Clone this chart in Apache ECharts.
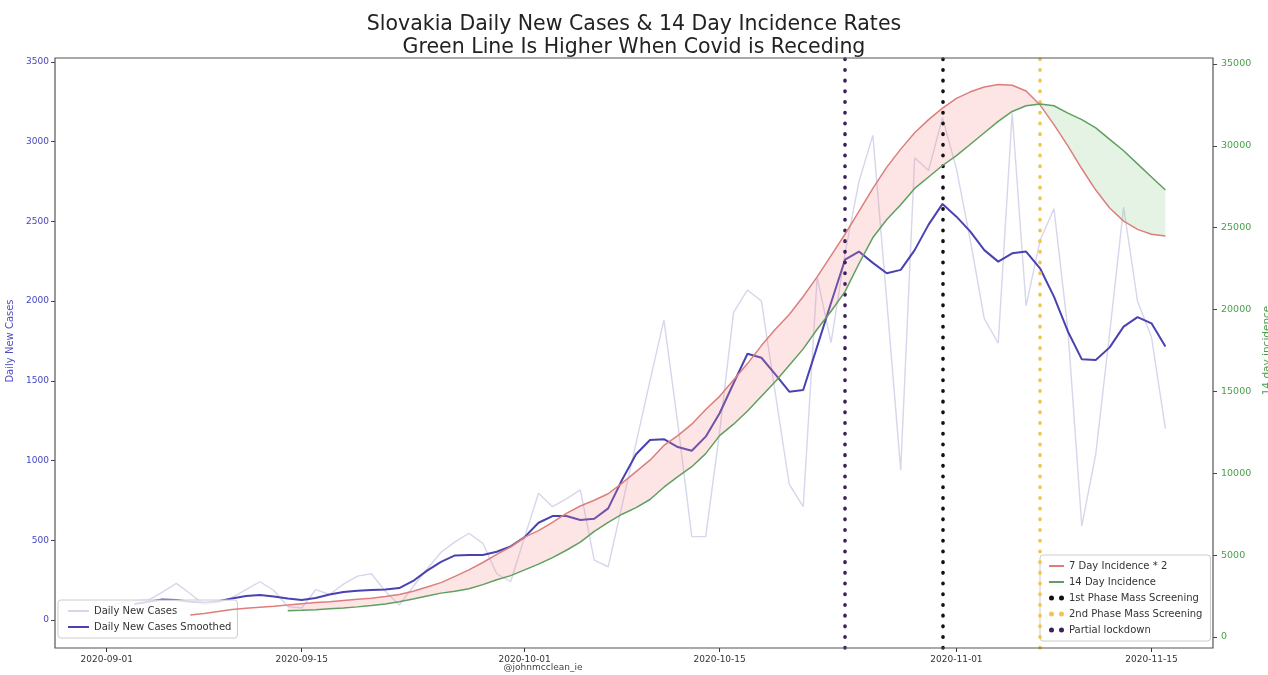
<!DOCTYPE html>
<html><head><meta charset="utf-8">
<script src="https://cdn.jsdelivr.net/npm/echarts@6/dist/echarts.min.js"></script>
<style>html,body{margin:0;padding:0;background:#fff}#c{width:1268px;height:675px}</style>
</head><body><div id="c"></div>
<script>
// ---------- DATA ----------
const dates = [
 '2020-09-01','2020-09-02','2020-09-03','2020-09-04','2020-09-05','2020-09-06','2020-09-07','2020-09-08','2020-09-09','2020-09-10',
 '2020-09-11','2020-09-12','2020-09-13','2020-09-14','2020-09-15','2020-09-16','2020-09-17','2020-09-18','2020-09-19','2020-09-20',
 '2020-09-21','2020-09-22','2020-09-23','2020-09-24','2020-09-25','2020-09-26','2020-09-27','2020-09-28','2020-09-29','2020-09-30',
 '2020-10-01','2020-10-02','2020-10-03','2020-10-04','2020-10-05','2020-10-06','2020-10-07','2020-10-08','2020-10-09','2020-10-10',
 '2020-10-11','2020-10-12','2020-10-13','2020-10-14','2020-10-15','2020-10-16','2020-10-17','2020-10-18','2020-10-19','2020-10-20',
 '2020-10-21','2020-10-22','2020-10-23','2020-10-24','2020-10-25','2020-10-26','2020-10-27','2020-10-28','2020-10-29','2020-10-30',
 '2020-10-31','2020-11-01','2020-11-02','2020-11-03','2020-11-04','2020-11-05','2020-11-06','2020-11-07','2020-11-08','2020-11-09',
 '2020-11-10','2020-11-11','2020-11-12','2020-11-13','2020-11-14','2020-11-15','2020-11-16'
];
const dailyCases = [
 60,110,120,125,175,230,165,95,110,140,
 190,240,185,85,75,190,160,225,275,290,
 180,94,210,320,425,490,544,481,290,240,
 520,795,711,760,816,376,334,720,1110,1500,
 1882,1230,523,523,1180,1930,2070,2000,1420,850,
 711,2150,1740,2300,2750,3040,2000,940,2900,2820,
 3150,2830,2380,1890,1736,3180,1970,2380,2580,1820,
 590,1040,1800,2590,2000,1775,1200
];
const dailySmoothed = [
 null,null,100,115,128,125,115,109,118,135,
 150,157,148,135,125,138,160,176,184,188,
 191,200,245,310,365,405,408,408,428,462,
 520,610,652,652,627,635,700,880,1040,1129,
 1134,1085,1062,1150,1297,1485,1670,1645,1540,1432,
 1443,1715,1990,2260,2311,2240,2175,2196,2320,2480,
 2610,2530,2436,2320,2248,2300,2311,2206,2028,1810,
 1635,1631,1710,1840,1900,1861,1715
];
const incidence7x2 = [
 null,null,null,null,null,null,1340,1440,1560,1680,
 1760,1820,1880,1950,2030,2100,2160,2230,2300,2360,
 2470,2600,2800,3050,3320,3700,4100,4550,5050,5500,
 6100,6500,7000,7550,8000,8350,8750,9400,10100,10800,
 11700,12300,13000,13900,14700,15700,16700,17800,18800,19700,
 20800,22000,23300,24600,26000,27400,28700,29800,30800,31600,
 32300,32900,33300,33600,33750,33700,33350,32500,31300,30000,
 28600,27300,26200,25400,24900,24600,24500
];
const incidence14 = [
 null,null,null,null,null,null,null,null,null,null,
 null,null,null,1600,1630,1670,1720,1770,1840,1920,
 2020,2150,2320,2500,2680,2800,2950,3200,3500,3750,
 4100,4450,4850,5300,5800,6450,7000,7500,7900,8400,
 9150,9800,10400,11200,12300,13000,13800,14700,15600,16600,
 17600,18800,19900,21100,22800,24400,25500,26400,27400,28100,
 28800,29400,30100,30800,31500,32100,32450,32550,32450,32000,
 31600,31100,30400,29700,28900,28100,27300
];
const events = [
 {name:'1st Phase Mass Screening', date:'2020-10-31', color:'#111111'},
 {name:'2nd Phase Mass Screening', date:'2020-11-07', color:'#f0c550'},
 {name:'Partial lockdown', date:'2020-10-24', color:'#3d1f5c'}
];
const titleLines = ['Slovakia Daily New Cases & 14 Day Incidence Rates','Green Line Is Higher When Covid is Receding'];

// ---------- derived band arrays for fill between red & green ----------
const bandBase = incidence7x2.map((r,i)=>(r==null||incidence14[i]==null)?null:Math.min(r,incidence14[i]));
const bandPink = incidence7x2.map((r,i)=>(r==null||incidence14[i]==null)?null:Math.max(r-incidence14[i],0));
const bandGreen = incidence7x2.map((r,i)=>(r==null||incidence14[i]==null)?null:Math.max(incidence14[i]-r,0));

const FONT = 'DejaVu Sans';
const DL = 106.7, DR = 102.6;
const tickFn = (idx, val) => /-(01|15)$/.test(val);
const plain = v => String(v);
const DOTS = 'path://M0,2.5A2.5,2.5,0,1,1,5,2.5A2.5,2.5,0,1,1,0,2.5ZM10,2.5A2.5,2.5,0,1,1,15,2.5A2.5,2.5,0,1,1,10,2.5Z';

const chart = echarts.init(document.getElementById('c'), null, {renderer:'canvas'});
const eventSeries = events.map(e => ({
  name: e.name, type:'line', xAxisIndex:0, yAxisIndex:0, data:[],
  symbol:'none', itemStyle:{color:e.color}, lineStyle:{color:e.color},
  markLine:{silent:true, symbol:['none','none'], label:{show:false},
    lineStyle:{color:e.color, type:[0.5,10.2], width:3.6, cap:'round', opacity:1},
    emphasis:{disabled:true},
    data:[{xAxis:e.date}]},
  z:10
}));

const legendCommon = {
  orient:'vertical', itemGap:4, itemHeight:5,
  backgroundColor:'rgba(255,255,255,0.8)', borderColor:'#cccccc', borderWidth:1, borderRadius:3,
  selectedMode:false, itemStyle:{opacity:0},
  textStyle:{fontSize:10, color:'#333', lineHeight:12, fontFamily:FONT}
};

chart.setOption({
  animation:false,
  backgroundColor:'#ffffff',
  textStyle:{fontFamily:FONT},
  title:{text:titleLines.join('\n'), left:'center', top:8,
    textStyle:{fontFamily:FONT, fontSize:20.5, fontWeight:'normal', color:'#222', lineHeight:23}},
  grid:[
    {left:DL, right:DR, top:58, bottom:27, outerBoundsMode:'none', containLabel:false},
    {left:DL, right:DR, top:62, bottom:55, outerBoundsMode:'none', containLabel:false},
    {left:DL, right:DR, top:64, bottom:38, outerBoundsMode:'none', containLabel:false}
  ],
  xAxis:[
    {gridIndex:0, type:'category', data:dates, boundaryGap:false,
      axisLine:{show:false},
      axisTick:{show:true, interval:tickFn, length:4, lineStyle:{color:'#333'}},
      axisLabel:{interval:tickFn, fontSize:9, color:'#333', margin:7, fontFamily:FONT},
      splitLine:{show:false}},
    {gridIndex:1, type:'category', data:dates, boundaryGap:false, show:false},
    {gridIndex:2, type:'category', data:dates, boundaryGap:false, show:false}
  ],
  yAxis:[
    {gridIndex:0, type:'value', min:0, max:1, show:false},
    {gridIndex:1, type:'value', min:0, max:3500, interval:500, position:'left', offset:DL-55,
      axisLine:{show:false}, axisTick:{show:true, length:4, lineStyle:{color:'#444'}},
      splitLine:{show:false},
      axisLabel:{color:'#4646c0', fontSize:9, margin:6, fontFamily:FONT, formatter:plain},
      name:'Daily New Cases', nameLocation:'middle', nameGap:37,
      nameTextStyle:{color:'#5050c4', fontSize:10, fontFamily:FONT}},
    {gridIndex:2, type:'value', min:0, max:35000, interval:5000, position:'right', offset:1213-(1268-DR),
      axisLine:{show:false}, axisTick:{show:true, length:4, lineStyle:{color:'#444'}},
      splitLine:{show:false},
      axisLabel:{color:'#4a9e4a', fontSize:9.5, margin:8, fontFamily:FONT, formatter:plain},
      name:'14 day incidence', nameLocation:'middle', nameGap:40, nameRotate:90,
      nameTextStyle:{color:'#4a9e4a', fontSize:10.5, fontFamily:FONT}}
  ],
  legend:[
    Object.assign({}, legendCommon, {left:58, top:600, padding:[5,6,5,9], itemWidth:21,
      data:['Daily New Cases','Daily New Cases Smoothed']}),
    Object.assign({}, legendCommon, {left:1040, top:555, padding:[5,8,5,8], itemWidth:15,
      data:['7 Day Incidence * 2','14 Day Incidence',
        {name:'1st Phase Mass Screening', icon:DOTS, itemStyle:{opacity:1}},
        {name:'2nd Phase Mass Screening', icon:DOTS, itemStyle:{opacity:1}},
        {name:'Partial lockdown', icon:DOTS, itemStyle:{opacity:1}}]})
  ],
  graphic:[
    {type:'rect', shape:{x:55, y:58, width:1158, height:590}, style:{fill:'none', stroke:'#555', lineWidth:1.2}, z:50, silent:true},
    {type:'text', x:543, y:668, style:{text:'@johnmcclean_ie', fill:'#444', font:'9px "DejaVu Sans"', align:'center', verticalAlign:'middle'}, z:50, silent:true}
  ],
  series:[
    {name:'Daily New Cases', type:'line', xAxisIndex:1, yAxisIndex:1, data:dailyCases, symbol:'none',
      lineStyle:{color:'#d6d6ec', width:1.4}, itemStyle:{color:'#d6d6ec'}, z:2},
    {name:'Daily New Cases Smoothed', type:'line', xAxisIndex:1, yAxisIndex:1, data:dailySmoothed, symbol:'none',
      lineStyle:{color:'#4a42b0', width:2}, itemStyle:{color:'#4a42b0'}, z:3},
    {name:'bandBase', type:'line', xAxisIndex:2, yAxisIndex:2, data:bandBase, stack:'band', symbol:'none',
      lineStyle:{opacity:0}, silent:true, z:4},
    {name:'bandPink', type:'line', xAxisIndex:2, yAxisIndex:2, data:bandPink, stack:'band', symbol:'none',
      lineStyle:{opacity:0}, areaStyle:{color:'rgba(244,140,145,0.32)'}, silent:true, z:4},
    {name:'bandGreen', type:'line', xAxisIndex:2, yAxisIndex:2, data:bandGreen, stack:'band', symbol:'none',
      lineStyle:{opacity:0}, areaStyle:{color:'rgba(140,200,140,0.32)'}, silent:true, z:4},
    {name:'7 Day Incidence * 2', type:'line', xAxisIndex:2, yAxisIndex:2, data:incidence7x2, symbol:'none',
      lineStyle:{color:'#dc7f7c', width:1.5}, itemStyle:{color:'#dc7f7c'}, z:5},
    {name:'14 Day Incidence', type:'line', xAxisIndex:2, yAxisIndex:2, data:incidence14, symbol:'none',
      lineStyle:{color:'#5f9f5f', width:1.5}, itemStyle:{color:'#5f9f5f'}, z:5}
  ].concat(eventSeries)
});
</script></body></html>
